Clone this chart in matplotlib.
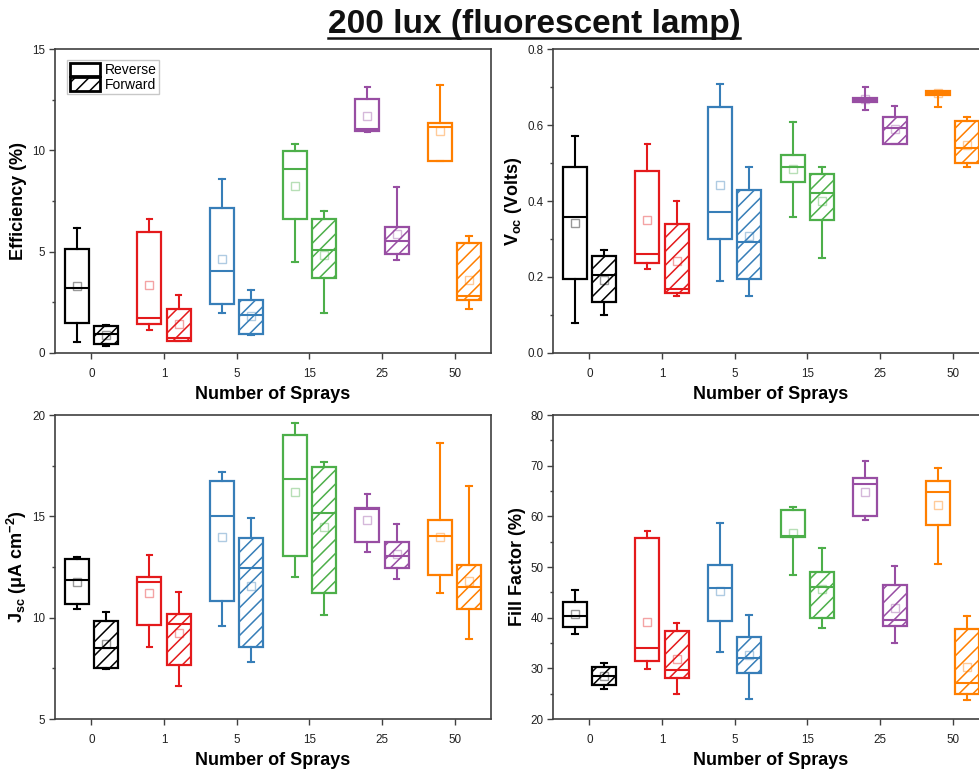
import matplotlib
matplotlib.use('Agg')
import matplotlib.pyplot as plt
from matplotlib.patches import Patch
from matplotlib.lines import Line2D
from matplotlib.ticker import MultipleLocator, FormatStrFormatter

DPI = 125
S = 100 / DPI  # keep sizes as if drawn at 100 dpi

plt.rcParams['font.family'] = ['Liberation Sans', 'DejaVu Sans']
plt.rcParams['mathtext.fontset'] = 'custom'
plt.rcParams['mathtext.rm'] = 'Liberation Sans'
plt.rcParams['mathtext.it'] = 'Liberation Sans:italic'
plt.rcParams['mathtext.bf'] = 'Liberation Sans:bold'
plt.rcParams['hatch.linewidth'] = 1.1 * S

title = '200 lux (fluorescent lamp)'
categories = ['0', '1', '5', '15', '25', '50']
colors = ['#000000', '#e41a1c', '#377eb8', '#4daf4a', '#984ea3', '#ff7f00']
legend_labels = ['Reverse', 'Forward']
xlabel = 'Number of Sprays'
HATCH = '///'

# each row: [whisker low, Q1, median, Q3, whisker high, mean]
eff_rev = [[0.54, 1.46, 3.19, 5.13, 6.19, 3.29],
           [1.12, 1.43, 1.72, 5.96, 6.62, 3.37],
           [1.97, 2.41, 4.04, 7.15, 8.61, 4.62],
           [4.49, 6.60, 9.08, 9.97, 10.32, 8.26],
           [10.90, 10.97, 11.04, 12.53, 13.11, 11.71],
           [9.48, 9.48, 11.17, 11.34, 13.21, 10.97]]
eff_fwd = [[0.33, 0.46, 0.94, 1.35, 1.40, 0.90],
           [0.57, 0.61, 0.74, 2.17, 2.86, 1.45],
           [0.87, 0.94, 1.89, 2.60, 3.09, 1.85],
           [1.97, 3.71, 5.06, 6.62, 7.00, 4.85],
           [4.57, 4.88, 5.52, 6.23, 8.17, 5.87],
           [2.17, 2.61, 2.83, 5.42, 5.77, 3.61]]

voc_rev = [[0.079, 0.195, 0.359, 0.489, 0.570, 0.342],
           [0.221, 0.238, 0.260, 0.479, 0.549, 0.349],
           [0.190, 0.300, 0.371, 0.648, 0.709, 0.442],
           [0.359, 0.450, 0.489, 0.520, 0.608, 0.485],
           [0.640, 0.660, 0.666, 0.670, 0.699, 0.668],
           [0.648, 0.679, 0.683, 0.690, 0.690, 0.683]]
voc_fwd = [[0.100, 0.134, 0.205, 0.254, 0.270, 0.193],
           [0.151, 0.159, 0.169, 0.339, 0.400, 0.243],
           [0.151, 0.195, 0.291, 0.429, 0.489, 0.307],
           [0.250, 0.350, 0.422, 0.470, 0.489, 0.401],
           [0.549, 0.549, 0.592, 0.620, 0.649, 0.590],
           [0.490, 0.499, 0.540, 0.610, 0.620, 0.548]]

jsc_rev = [[10.43, 10.66, 11.84, 12.89, 12.98, 11.78],
           [8.55, 9.62, 11.74, 12.01, 13.09, 11.22],
           [9.61, 10.81, 15.00, 16.76, 17.17, 13.98],
           [11.99, 13.04, 16.83, 19.01, 19.62, 16.20],
           [13.24, 13.75, 15.35, 15.39, 16.10, 14.84],
           [11.22, 12.11, 14.05, 14.82, 18.62, 13.98]]
jsc_fwd = [[7.45, 7.50, 8.52, 9.85, 10.30, 8.70],
           [6.64, 7.68, 9.67, 10.16, 11.27, 9.23],
           [7.80, 8.57, 12.45, 13.93, 14.93, 11.55],
           [10.12, 11.23, 15.15, 17.42, 17.70, 14.46],
           [11.91, 12.43, 13.06, 13.75, 14.64, 13.14],
           [8.96, 10.44, 11.50, 12.60, 16.48, 11.81]]

ff_rev = [[36.71, 38.09, 40.33, 43.16, 45.39, 40.79],
          [29.93, 31.51, 33.95, 55.72, 57.10, 39.20],
          [33.29, 39.28, 45.79, 50.46, 58.62, 45.26],
          [48.36, 55.92, 56.05, 61.32, 61.90, 56.64],
          [59.34, 60.07, 66.32, 67.50, 70.92, 64.87],
          [50.66, 58.29, 64.74, 66.97, 69.47, 62.24]]
ff_fwd = [[25.92, 26.78, 28.55, 30.20, 30.99, 28.55],
          [24.93, 28.03, 29.61, 37.43, 38.95, 31.90],
          [23.88, 29.08, 32.11, 36.25, 40.53, 32.63],
          [38.03, 39.93, 46.05, 49.08, 53.82, 45.60],
          [35.00, 38.29, 39.54, 46.45, 50.26, 41.84],
          [23.75, 24.87, 27.04, 37.70, 40.33, 30.33]]

W, H = 979, 771
fig = plt.figure(figsize=(W / DPI, H / DPI), dpi=DPI)

spine_col = '#404040'


def px_axes(left, top, right, bottom):
    return fig.add_axes([left / W, 1 - bottom / H, (right - left) / W, (bottom - top) / H])


def draw_box(ax, row, pos, color, hatch):
    st = dict(whislo=row[0], q1=row[1], med=row[2], q3=row[3], whishi=row[4],
              mean=row[5], fliers=[])
    ax.bxp([st], positions=[pos], widths=0.33, patch_artist=True, showmeans=True,
           showfliers=False, capwidths=0.08,
           boxprops=dict(facecolor='white', edgecolor=color, linewidth=1.6 * S, hatch=hatch),
           whiskerprops=dict(color=color, linewidth=1.5 * S),
           capprops=dict(color=color, linewidth=1.5 * S),
           medianprops=dict(color=color, linewidth=1.5 * S),
           meanprops=dict(marker='s', markerfacecolor='none', markeredgecolor=color,
                          markeredgewidth=1.0 * S, markersize=6 * S, alpha=0.4))


def panel(ax, rev, fwd, ylim, major, minor, fmt, ylabel, labelpad):
    for i, c in enumerate(colors):
        draw_box(ax, rev[i], i - 0.2, c, None)
        draw_box(ax, fwd[i], i + 0.2, c, HATCH)
    ax.set_xlim(-0.5, 5.5)
    ax.set_ylim(*ylim)
    ax.set_xticks(range(len(categories)))
    ax.set_xticklabels(categories)
    ax.yaxis.set_major_locator(MultipleLocator(major))
    ax.yaxis.set_minor_locator(MultipleLocator(minor))
    ax.yaxis.set_major_formatter(FormatStrFormatter(fmt))
    ax.tick_params(axis='both', which='major', direction='out', length=4.5 * S,
                   width=1.0 * S, color=spine_col, labelsize=8.4 * S,
                   labelcolor='#222222', pad=6 * S)
    ax.tick_params(axis='y', which='major', pad=2.5 * S)
    ax.tick_params(axis='y', which='minor', direction='out', length=2.5 * S,
                   width=1.0 * S, color=spine_col)
    for s in ax.spines.values():
        s.set_color(spine_col)
        s.set_linewidth(1.2 * S)
    ax.set_xlabel(xlabel, fontsize=13 * S, fontweight='bold', labelpad=4.5 * S)
    ax.set_ylabel(ylabel, fontsize=13 * S, fontweight='bold', labelpad=labelpad * S)


ax1 = px_axes(55, 49, 491, 353)
ax2 = px_axes(553, 49, 989, 353)
ax3 = px_axes(55, 415, 491, 719)
ax4 = px_axes(553, 415, 989, 719)

panel(ax1, eff_rev, eff_fwd, (0, 15), 5, 2.5, '%d', 'Efficiency (%)', 4)
panel(ax2, voc_rev, voc_fwd, (0, 0.8), 0.2, 0.1, '%.1f',
      r'V$_{\mathregular{oc}}$ (Volts)', 2.5)
panel(ax3, jsc_rev, jsc_fwd, (5, 20), 5, 2.5, '%d',
      r'J$_{\mathregular{sc}}$ (μA cm$^{\mathregular{-2}}$)', 2)
panel(ax4, ff_rev, ff_fwd, (20, 80), 10, 5, '%d', 'Fill Factor (%)', 3)

handles = [Patch(facecolor='white', edgecolor='black', linewidth=2.0 * S),
           Patch(facecolor='white', edgecolor='black', linewidth=2.0 * S, hatch=HATCH)]
leg = ax1.legend(handles, legend_labels, loc='upper left',
                 bbox_to_anchor=(12 / 436, 1 - 11 / 304), borderaxespad=0,
                 fontsize=10 * S, handlelength=2.2, handleheight=1.1, handletextpad=0.3,
                 labelspacing=0.0, borderpad=0.2, fancybox=False, framealpha=1)
leg.get_frame().set_edgecolor('#c8c8c8')
leg.get_frame().set_linewidth(1.0 * S)

t = fig.text(534 / W, 1 - 33 / H, title, ha='center', va='baseline',
             fontsize=24 * S, fontweight='bold', color='#111111')
fig.canvas.draw()
bb = t.get_window_extent()
uy = 1 - 37.5 / H
fig.add_artist(Line2D([bb.x0 / W, bb.x1 / W], [uy, uy], transform=fig.transFigure,
                      color='#111111', linewidth=1.8 * S))

fig.savefig('out.png', dpi=DPI)
